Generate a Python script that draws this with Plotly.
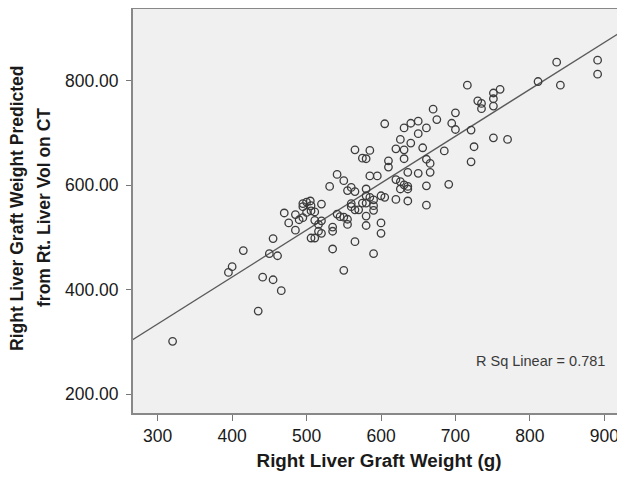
import plotly.graph_objects as go

# Actual right liver graft weight (g)
graft_weight = [
    320, 395, 400, 415, 441, 435, 455, 466, 450, 455, 461, 470, 476, 485, 485,
    490, 495, 495, 500, 506, 495, 500, 506, 511, 511, 516, 520, 520, 516, 520,
    506, 511, 531, 535, 535, 535, 541, 541, 550, 550, 555, 555, 550, 555, 560,
    565, 560, 565, 570, 565, 565, 575, 580, 585, 575, 580, 580, 580, 580, 585,
    585, 590, 590, 590, 590, 595, 600, 600, 605, 605, 610, 610, 620, 620, 620,
    626, 626, 626, 631, 631, 631, 631, 636, 636, 636, 636, 640, 640, 650, 650,
    650, 656, 661, 661, 661, 661, 666, 666, 670, 675, 685, 691, 695, 700, 700,
    716, 721, 721, 725, 730, 735, 735, 751, 751, 751, 751, 760, 770, 811, 836,
    841, 891, 891, 545, 505, 580, 600, 560
]
# Right liver graft weight predicted from right liver volume on CT
predicted_weight = [
    301, 433, 444, 475, 424, 359, 419, 398, 469, 498, 465, 547, 528, 544, 514,
    534, 538, 559, 568, 561, 565, 548, 551, 533, 549, 525, 564, 532, 512, 508,
    499, 499, 598, 520, 512, 478, 621, 545, 609, 539, 535, 525, 437, 590, 596,
    588, 559, 553, 553, 492, 668, 652, 651, 667, 566, 566, 593, 541, 523, 618,
    577, 572, 561, 552, 469, 618, 528, 508, 718, 577, 647, 635, 670, 611, 573,
    688, 607, 593, 710, 668, 651, 601, 625, 598, 593, 570, 719, 681, 723, 699,
    623, 672, 710, 650, 599, 562, 642, 625, 746, 726, 666, 602, 719, 739, 707,
    792, 706, 645, 674, 762, 757, 747, 777, 766, 752, 691, 784, 688, 799, 836,
    792, 840, 813, 540, 570, 580, 580, 565
]

# Fitted linear regression line
fit_intercept = 64.8
fit_slope = 0.899
fit_x = [260, 940]
fit_y = [fit_intercept + fit_slope * v for v in fit_x]

r_sq_text = "R Sq Linear = 0.781"
x_title = "Right Liver Graft Weight (g)"
y_title_lines = ["Right Liver Graft Weight Predicted", "from Rt. Liver Vol on CT"]

x_ticks = [300, 400, 500, 600, 700, 800, 900]
y_ticks = [200, 400, 600, 800]

font_family = "Arial, Liberation Sans, Helvetica, sans-serif"
text_color = "#1a1a1a"

fig = go.Figure()
fig.add_trace(go.Scatter(
    x=fit_x, y=fit_y, mode="lines",
    line=dict(color="#5a5a5a", width=1.3),
    hoverinfo="skip", showlegend=False,
))
fig.add_trace(go.Scatter(
    x=graft_weight, y=predicted_weight, mode="markers",
    marker=dict(symbol="circle-open", size=7.5, color="#3c3c3c",
                line=dict(width=1.3, color="#3c3c3c")),
    showlegend=False,
))

fig.add_annotation(
    x=813.8, y=264, text=r_sq_text, showarrow=False,
    font=dict(family=font_family, size=14.5, color="#3a3a3a"),
    xanchor="center", yanchor="middle",
)

# Two-line y axis title as separate rotated annotations
for line_text, shift in zip(y_title_lines, [-116, -89]):
    fig.add_annotation(
        xref="paper", yref="paper", x=0, y=0.5,
        xshift=shift, yshift=3,
        text="<b>" + line_text + "</b>", showarrow=False, textangle=-90,
        font=dict(family=font_family, size=17.5, color=text_color),
        xanchor="center", yanchor="middle",
    )

fig.update_layout(
    width=617, height=473,
    margin=dict(l=125, r=0, t=1, b=68),
    paper_bgcolor="white",
    plot_bgcolor="#f0f0f0",
    font=dict(family=font_family, color=text_color),
    xaxis=dict(
        range=[266.8, 927.8],
        tickvals=x_ticks,
        ticks="outside", ticklen=6, tickcolor="#777777", tickwidth=1,
        tickfont=dict(size=17.5, color=text_color),
        showgrid=False, zeroline=False,
        showline=True, linecolor="#888888", linewidth=2, mirror=True,
        title=dict(text="<b>" + x_title + "</b>",
                   font=dict(size=18.8, color=text_color), standoff=9),
    ),
    yaxis=dict(
        range=[163.6, 938],
        tickvals=y_ticks,
        tickformat=".2f",
        ticks="outside", ticklen=5, tickcolor="#777777", tickwidth=1,
        ticklabelstandoff=4,
        tickfont=dict(size=17.5, color=text_color),
        showgrid=False, zeroline=False,
        showline=True, linecolor="#888888", linewidth=2, mirror=False,
    ),
)

fig.write_html("out.html")
